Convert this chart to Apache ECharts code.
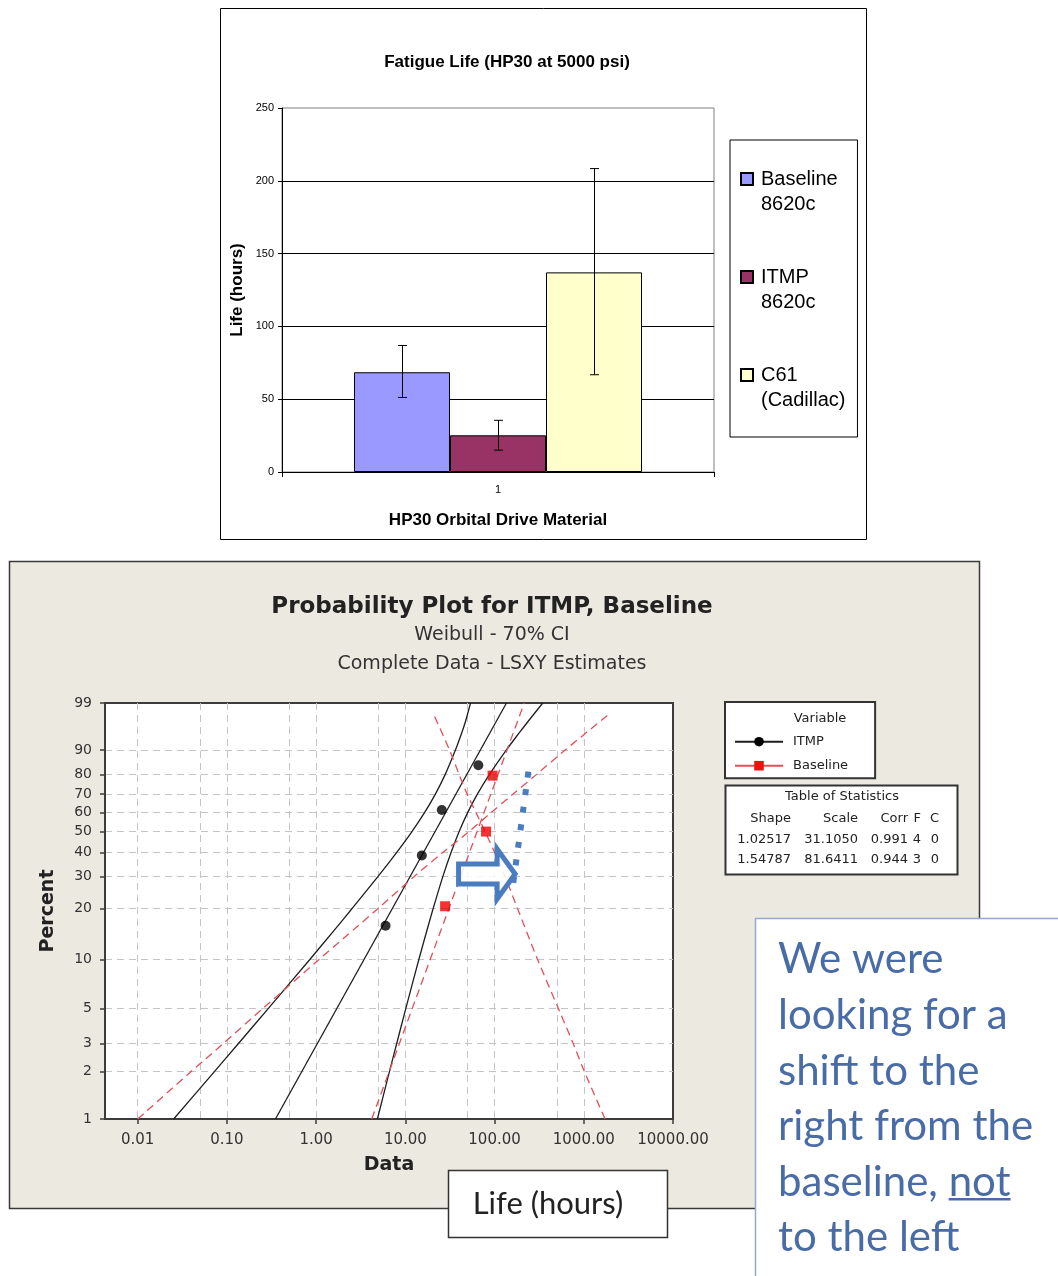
<!DOCTYPE html>
<html>
<head>
<meta charset="utf-8">
<script src="https://cdn.jsdelivr.net/npm/echarts@6/dist/echarts.min.js"></script>
<style>
html, body { margin: 0; padding: 0; background: #fff; }
#chart { width: 1058px; height: 1276px; }
</style>
</head>
<body>
<div id="chart"></div>
<script>
// ---------- Fatigue life bar chart ----------
const groupLabels = ['1'];
const materials = ['Baseline 8620c', 'ITMP 8620c', 'C61 (Cadillac)'];
const meanLife = [68.5, 25.2, 137.1];
const lifeLow = [51.2, 15.0, 66.8];
const lifeHigh = [86.9, 35.5, 208.4];

// ---------- Weibull probability plot ----------
const pctTicks = [1, 2, 3, 5, 10, 20, 30, 40, 50, 60, 70, 80, 90, 99];
const lifeGridValues = [0.005, 0.01, 0.05, 0.1, 0.5, 1, 5, 10, 50, 100, 500, 1000, 5000];
const lifeAxisMin = 0.0043;
const lifeAxisMax = 10000;

const itmpLife = [6.0, 15.3, 25.6, 65.8];
const itmpPct = [15.9, 38.6, 61.4, 84.1];
const baselineLife = [27.9, 80.3, 95.0];
const baselinePct = [20.6, 50.0, 79.4];

const fitPct = [1, 99];
const itmpFitLife = [0.35, 136];
const baselineFitLife = [4.2, 215];

// 70% confidence band for ITMP
const itmpBandPct = [1, 2, 3, 5, 10, 15, 20, 30, 40, 50, 60, 70, 80, 90, 95, 97, 99];
const itmpLowerLife = [0.0253, 0.0724, 0.134, 0.292, 0.85, 1.60, 2.53, 4.92, 8.01, 11.86, 16.4, 21.7, 28.0, 36.4, 43.1, 47.2, 53.8];
const itmpUpperLife = [4.86, 6.63, 7.99, 10.13, 14.17, 17.5, 20.5, 26.3, 32.6, 40.1, 49.9, 64.2, 87.7, 135.3, 191.7, 237, 347];

// 70% confidence band for Baseline (the two bounds cross near the middle)
const baselineBandPct = [1, 2, 3, 5, 10, 20, 30, 40, 50, 60, 70, 80, 90, 98];
const baselineBoundA = [0.01, 0.0396, 0.0904, 0.254, 1.078, 4.94, 12.5, 26.5, 51.8, 91.4, 161, 296, 617, 1922];
const baselineBoundB = [1733, 1016, 763, 518, 303.5, 181, 131.2, 100, 78.3, 62.0, 49.2, 40.0, 31.3, 20.7];

const statsHeader = ['Shape', 'Scale', 'Corr', 'F', 'C'];
const statsRows = [
  ['1.02517', '31.1050', '0.991', '4', '0'],
  ['1.54787', '81.6411', '0.944', '3', '0']
];

// hand-drawn "shift" annotation: dotted guide and hollow arrow
const shiftPathLife = [162, 240];
const shiftPathPct = [27.8, 81.6];
const shiftArrowLife = [39.5, 170];
const shiftArrowPct = 31;

const calloutLines = ['We were', 'looking for a', 'shift to the', 'right from the', 'baseline, not', 'to the left'];

// Weibull probability scale: percent -> ln(-ln(1 - p))
const weibullY = p => Math.log(-Math.log(1 - p / 100));
const weibullPct = v => 100 * (1 - Math.exp(-Math.exp(v)));
const pairs = (xs, ps) => xs.map((x, i) => [x, weibullY(ps[i])]);

// ---------- styles ----------
const barColors = ['#9999ff', '#993366', '#ffffcc'];
const barCategoryGap = 0.3333;
const mtbFont = 'DejaVu Sans';
const xlFont = 'Liberation Sans';
const gridDash = { color: '#c4c4c4', width: 1, type: [7, 5] };
const blackCurve = { color: '#1e1e1e', width: 1.3 };
const redCurve = { color: '#e2505a', width: 1.3, type: [8, 5] };
const blue = '#4a7cc0';

const chart = echarts.init(document.getElementById('chart'), null, { renderer: 'canvas' });

const barSeries = materials.map((m, k) => ({
  type: 'bar',
  name: m,
  xAxisIndex: 0,
  yAxisIndex: 0,
  data: [meanLife[k]],
  barGap: '0%',
  barCategoryGap: (barCategoryGap * 100) + '%',
  itemStyle: { color: barColors[k], borderColor: '#000', borderWidth: 1 }
}));

const errorBars = {
  type: 'custom',
  name: 'spread',
  xAxisIndex: 0,
  yAxisIndex: 0,
  data: materials.map((m, k) => [0, lifeLow[k], lifeHigh[k], k]),
  encode: { x: 0, y: [1, 2] },
  z: 5,
  renderItem(params, api) {
    const k = api.value(3);
    const band = api.size([1, 0])[0];
    const barW = band * (1 - barCategoryGap) / materials.length;
    const cx = Math.round(api.coord([api.value(0), 0])[0] + (k - (materials.length - 1) / 2) * barW) + 0.5;
    const yLo = api.coord([api.value(0), api.value(1)])[1];
    const yHi = api.coord([api.value(0), api.value(2)])[1];
    const cap = 4.5;
    const st = { stroke: '#000', lineWidth: 1 };
    return {
      type: 'group',
      children: [
        { type: 'line', shape: { x1: cx, y1: yHi, x2: cx, y2: yLo }, style: st },
        { type: 'line', shape: { x1: cx - cap, y1: yHi, x2: cx + cap, y2: yHi }, style: st },
        { type: 'line', shape: { x1: cx - cap, y1: yLo, x2: cx + cap, y2: yLo }, style: st }
      ]
    };
  }
};

const probSeries = [
  { type: 'line', name: 'ITMP', data: pairs(itmpFitLife, fitPct), symbol: 'circle', symbolSize: 9, showSymbol: false,
    lineStyle: blackCurve, itemStyle: { color: '#000' }, z: 3 },
  { type: 'line', name: 'ITMP', data: pairs(itmpLowerLife, itmpBandPct), symbol: 'none', smooth: 0.3,
    lineStyle: blackCurve, itemStyle: { color: '#000' }, z: 3 },
  { type: 'line', name: 'ITMP', data: pairs(itmpUpperLife, itmpBandPct), symbol: 'none', smooth: 0.3,
    lineStyle: blackCurve, itemStyle: { color: '#000' }, z: 3 },
  { type: 'line', name: 'Baseline', data: pairs(baselineFitLife, fitPct), symbol: 'rect', symbolSize: 9, showSymbol: false,
    lineStyle: redCurve, itemStyle: { color: '#ee1111' }, z: 3 },
  { type: 'line', name: 'Baseline', data: pairs(baselineBoundA, baselineBandPct), symbol: 'none', smooth: 0.3,
    lineStyle: redCurve, itemStyle: { color: '#ee1111' }, z: 3 },
  { type: 'line', name: 'Baseline', data: pairs(baselineBoundB, baselineBandPct), symbol: 'none', smooth: 0.3,
    lineStyle: redCurve, itemStyle: { color: '#ee1111' }, z: 3 },
  { type: 'scatter', name: 'ITMP', data: pairs(itmpLife, itmpPct), symbol: 'circle', symbolSize: 10,
    itemStyle: { color: '#000' }, z: 5 },
  { type: 'scatter', name: 'Baseline', data: pairs(baselineLife, baselinePct), symbol: 'rect', symbolSize: 10,
    itemStyle: { color: '#ee0000' }, z: 5 },
  { type: 'custom', name: 'shift arrow', z: 6,
    data: [[shiftArrowLife[0], shiftArrowLife[1], weibullY(shiftArrowPct)]],
    encode: { x: [0, 1], y: 2 },
    renderItem(params, api) {
      const tail = api.coord([api.value(0), api.value(2)]);
      const tip = api.coord([api.value(1), api.value(2)]);
      const cy = tail[1], sh = 10, hh = 25, hl = 18;
      const bx = tip[0] - hl;
      return {
        type: 'polygon',
        shape: { points: [[tail[0], cy - sh], [bx, cy - sh], [bx, cy - hh], [tip[0], cy], [bx, cy + hh], [bx, cy + sh], [tail[0], cy + sh]] },
        style: { fill: 'rgba(255,255,255,0.85)', stroke: blue, lineWidth: 5, lineJoin: 'miter' }
      };
    }
  },
  { type: 'line', name: 'shift guide', data: pairs(shiftPathLife, shiftPathPct), symbol: 'none',
    lineStyle: { color: blue, width: 6, type: [6, 11.7], cap: 'butt' }, z: 7 }
].map(s => Object.assign({ xAxisIndex: 1, yAxisIndex: 1, animation: false }, s));

// ---------- decorations: panels, titles, stats table, notes ----------
const measure = (() => {
  const ctx = document.createElement('canvas').getContext('2d');
  return (text, font) => { ctx.font = font; return ctx.measureText(text).width; };
})();

const statColsRight = [791, 858, 908, 921, 939];
const statsTexts = [];
statsHeader.forEach((h, c) => statsTexts.push({
  type: 'text', x: statColsRight[c], y: 819, z: 20,
  style: { text: h, fontSize: 13, fontFamily: mtbFont, fill: '#222', align: 'right', verticalAlign: 'middle' }
}));
statsRows.forEach((row, r) => row.forEach((v, c) => statsTexts.push({
  type: 'text', x: statColsRight[c], y: 840 + r * 20, z: 20,
  style: { text: v, fontSize: 13, fontFamily: mtbFont, fill: '#222', align: 'right', verticalAlign: 'middle' }
})));

const calloutFontSize = 42;
const calloutLeft = 778, calloutTop = 932, calloutLH = 55.6;
const ulLine = 4;
const ulPrefix = measure('baseline, ', calloutFontSize + 'px Lato');
const ulWidth = measure('not', calloutFontSize + 'px Lato');
const ulY = calloutTop + ulLine * calloutLH + calloutLH / 2 + 17;

const graphics = [
  { type: 'rect', z: -10, shape: { x: 220.5, y: 8.5, width: 646, height: 531 },
    style: { fill: '#fff', stroke: '#000', lineWidth: 1 } },
  { type: 'text', x: 507, y: 62, z: 10,
    style: { text: 'Fatigue Life (HP30 at 5000 psi)', fontSize: 17, fontWeight: 'bold', fontFamily: xlFont, fill: '#000', align: 'center', verticalAlign: 'middle' } },
  { type: 'rect', z: -10, shape: { x: 9.5, y: 561.5, width: 970, height: 647 },
    style: { fill: '#ece9e1', stroke: '#3a3a3a', lineWidth: 1.5 } },
  { type: 'text', x: 492, y: 607, z: 10,
    style: { text: 'Probability Plot for ITMP, Baseline', fontSize: 23, fontWeight: 'bold', fontFamily: mtbFont, fill: '#222', align: 'center', verticalAlign: 'middle' } },
  { type: 'text', x: 492, y: 635, z: 10,
    style: { text: 'Weibull - 70% CI', fontSize: 19, fontFamily: mtbFont, fill: '#333', align: 'center', verticalAlign: 'middle' } },
  { type: 'text', x: 492, y: 664, z: 10,
    style: { text: 'Complete Data - LSXY Estimates', fontSize: 19, fontFamily: mtbFont, fill: '#333', align: 'center', verticalAlign: 'middle' } },
  { type: 'text', x: 820, y: 719, z: 20,
    style: { text: 'Variable', fontSize: 13, fontFamily: mtbFont, fill: '#222', align: 'center', verticalAlign: 'middle' } },
  { type: 'rect', z: 15, shape: { x: 725.5, y: 785.5, width: 232, height: 89 },
    style: { fill: '#fff', stroke: '#333', lineWidth: 2 } },
  { type: 'text', x: 842, y: 797, z: 20,
    style: { text: 'Table of Statistics', fontSize: 13, fontFamily: mtbFont, fill: '#222', align: 'center', verticalAlign: 'middle' } },
  ...statsTexts,
  { type: 'rect', z: 100, shape: { x: 448.5, y: 1170.5, width: 219, height: 67 },
    style: { fill: '#fff', stroke: '#333', lineWidth: 1.5 } },
  { type: 'text', x: 548, y: 1204, z: 101,
    style: { text: 'Life (hours)', fontSize: 31, fontFamily: 'Lato', fill: '#222', align: 'center', verticalAlign: 'middle' } },
  { type: 'rect', z: 100, shape: { x: 755.5, y: 918.5, width: 320, height: 400 },
    style: { fill: '#fff', stroke: '#93aacd', lineWidth: 1.5 } },
  { type: 'text', x: calloutLeft, y: calloutTop, z: 101,
    style: { text: calloutLines.join('\n'), fontSize: calloutFontSize, lineHeight: calloutLH, fontFamily: 'Lato', fill: '#4a6ca6', align: 'left', verticalAlign: 'top' } },
  { type: 'line', z: 101, shape: { x1: calloutLeft + ulPrefix, y1: ulY, x2: calloutLeft + ulPrefix + ulWidth, y2: ulY },
    style: { stroke: '#4a6ca6', lineWidth: 2.5 } }
];

const option = {
  backgroundColor: '#fff',
  animation: false,
  graphic: { elements: graphics },
  legend: [
    {
      data: materials,
      orient: 'vertical',
      left: 730, top: 140,
      padding: [1.5, 12, 24.5, 10],
      itemGap: 23,
      itemWidth: 12, itemHeight: 12,
      icon: 'rect',
      // an empty first line keeps the swatch level with the first line of the name
      formatter: name => '\n' + name.replace(' ', '\n'),
      textStyle: { fontSize: 20, lineHeight: 25, fontFamily: xlFont, color: '#000', padding: [0, 0, 0, 3] },
      borderColor: '#000', borderWidth: 1, backgroundColor: '#fff'
    },
    {
      data: ['ITMP', 'Baseline'],
      orient: 'vertical',
      left: 725, top: 702,
      padding: [31.7, 27, 4.6, 9],
      itemGap: 8,
      itemWidth: 48, itemHeight: 12,
      lineStyle: { type: 'solid' },
      textStyle: { fontSize: 13, lineHeight: 16, fontFamily: mtbFont, color: '#222', padding: [0, 0, 0, 5] },
      borderColor: '#333', borderWidth: 2, backgroundColor: '#fff'
    }
  ],
  grid: [
    { left: 282, top: 108, width: 432, height: 364, show: true, backgroundColor: '#fff', borderColor: '#808080', borderWidth: 1 },
    { left: 105, top: 703, width: 568, height: 416, show: true, backgroundColor: '#fff', borderColor: '#3c3c3c', borderWidth: 2 }
  ],
  xAxis: [
    {
      type: 'category', gridIndex: 0, data: groupLabels,
      axisLine: { onZero: false, lineStyle: { color: '#000', width: 1 } },
      axisTick: { show: true, length: 5, lineStyle: { color: '#000' } },
      axisLabel: { fontSize: 11, margin: 12, color: '#000', fontFamily: xlFont },
      name: 'HP30 Orbital Drive Material', nameLocation: 'middle', nameGap: 40,
      nameTextStyle: { fontSize: 17, fontWeight: 'bold', fontFamily: xlFont, color: '#000' }
    },
    {
      type: 'log', logBase: 10, gridIndex: 1, min: lifeAxisMin, max: lifeAxisMax,
      axisLine: { show: true, onZero: false, lineStyle: { color: '#3c3c3c', width: 2 } },
      axisTick: { show: true, length: 5, lineStyle: { color: '#3c3c3c', width: 1.5 } },
      axisLabel: { formatter: v => Number(v).toFixed(2), fontSize: 15, margin: 14, color: '#333', fontFamily: mtbFont, showMinLabel: false, showMaxLabel: true },
      splitLine: { show: false },
      name: 'Data', nameLocation: 'middle', nameGap: 37,
      nameTextStyle: { fontSize: 19, fontWeight: 'bold', fontFamily: mtbFont, color: '#222' }
    },
    {
      // carries the 1x / 5x decade grid lines of the probability plot
      type: 'value', gridIndex: 1, position: 'top',
      min: Math.log10(lifeAxisMin), max: Math.log10(lifeAxisMax),
      axisLine: { show: false, onZero: false },
      axisLabel: { show: false },
      axisTick: { show: false, customValues: lifeGridValues.map(Math.log10) },
      splitLine: { show: true, lineStyle: gridDash, showMinLine: false, showMaxLine: false }
    }
  ],
  yAxis: [
    {
      type: 'value', gridIndex: 0, min: 0, max: 250, interval: 50,
      axisLine: { show: true, onZero: false, lineStyle: { color: '#000', width: 1 } },
      axisTick: { show: true, length: 4, lineStyle: { color: '#000' } },
      axisLabel: { fontSize: 11, margin: 8, color: '#000', fontFamily: xlFont },
      splitLine: { show: true, lineStyle: { color: '#000', width: 1 }, showMinLine: false, showMaxLine: false },
      name: 'Life (hours)', nameLocation: 'middle', nameGap: 36,
      nameTextStyle: { fontSize: 17, fontWeight: 'bold', fontFamily: xlFont, color: '#000' }
    },
    {
      type: 'value', gridIndex: 1, min: weibullY(1), max: weibullY(99),
      axisLine: { show: true, onZero: false, lineStyle: { color: '#3c3c3c', width: 2 } },
      axisTick: { show: true, length: 5, customValues: pctTicks.map(weibullY), lineStyle: { color: '#3c3c3c', width: 1.5 } },
      axisLabel: { customValues: pctTicks.map(weibullY), formatter: v => String(Math.round(weibullPct(v))),
        fontSize: 14, margin: 13, color: '#333', fontFamily: mtbFont },
      splitLine: { show: true, lineStyle: gridDash, showMinLine: false, showMaxLine: false },
      name: 'Percent', nameLocation: 'middle', nameGap: 47,
      nameTextStyle: { fontSize: 19, fontWeight: 'bold', fontFamily: mtbFont, color: '#222' }
    }
  ],
  series: [...barSeries, errorBars, ...probSeries]
};

chart.setOption(option);
</script>
</body>
</html>
